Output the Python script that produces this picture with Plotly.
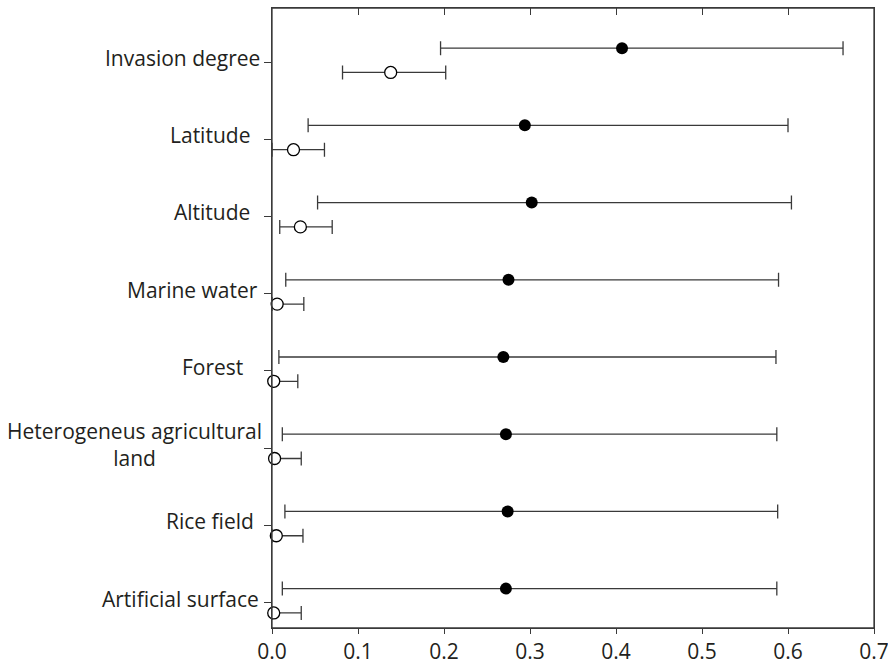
import plotly.graph_objects as go

# ---------------- data ----------------
categories = ["Invasion degree", "Latitude", "Altitude", "Marine water", "Forest",
              "Heterogeneus agricultural<br>land", "Rice field", "Artificial surface"]

filled_mean = [0.407, 0.294, 0.302, 0.275, 0.269, 0.272, 0.274, 0.272]
filled_low  = [0.196, 0.042, 0.053, 0.016, 0.008, 0.012, 0.015, 0.012]
filled_high = [0.664, 0.600, 0.604, 0.589, 0.586, 0.587, 0.588, 0.587]

open_mean = [0.138, 0.025, 0.033, 0.006, 0.002, 0.003, 0.005, 0.002]
open_low  = [0.082, 0.000, 0.009, 0.000, 0.000, 0.000, 0.000, 0.000]
open_high = [0.202, 0.061, 0.070, 0.037, 0.030, 0.034, 0.036, 0.034]

x_ticks = [0.0, 0.1, 0.2, 0.3, 0.4, 0.5, 0.6, 0.7]
x_max = 0.7

# ---------------- style ----------------
FONT = "Open Sans"
INK = "#231f20"
LINE = "#3a3a3a"
FILLED_OFFSET = -0.18
OPEN_OFFSET = 0.135
label_xshift = [-10, -20, -20, -11.7, -26.7, -8.4, -15.7, -10.7]

idx = list(range(len(categories)))

fig = go.Figure()

fig.add_trace(go.Scatter(
    x=filled_mean,
    y=[i + FILLED_OFFSET for i in idx],
    mode="markers",
    marker=dict(size=12, color="black", line=dict(width=0)),
    error_x=dict(type="data", symmetric=False,
                 array=[h - m for h, m in zip(filled_high, filled_mean)],
                 arrayminus=[m - l for m, l in zip(filled_mean, filled_low)],
                 color=LINE, thickness=1.3, width=7),
    cliponaxis=False, showlegend=False, hoverinfo="skip"))

fig.add_trace(go.Scatter(
    x=open_mean,
    y=[i + OPEN_OFFSET for i in idx],
    mode="markers",
    marker=dict(size=12, color="white", line=dict(width=1.3, color="black")),
    error_x=dict(type="data", symmetric=False,
                 array=[h - m for h, m in zip(open_high, open_mean)],
                 arrayminus=[m - l for m, l in zip(open_mean, open_low)],
                 color=LINE, thickness=1.3, width=7),
    cliponaxis=False, showlegend=False, hoverinfo="skip"))

fig.add_trace(go.Scatter(x=[None], y=[None], xaxis="x2", yaxis="y",
                         mode="markers", showlegend=False, hoverinfo="skip"))

for i, lab in enumerate(categories):
    fig.add_annotation(
        x=0, xref="paper", y=i, yref="y",
        text=lab, showarrow=False, xanchor="right", yanchor="middle",
        align="center", xshift=label_xshift[i], yshift=4,
        font=dict(family=FONT, size=21, color=INK))

# plot frame
fig.add_shape(type="rect", xref="x domain", yref="y domain",
              x0=0, x1=1, y0=0, y1=1, layer="above",
              line=dict(color=LINE, width=1.3), fillcolor="rgba(0,0,0,0)")

fig.update_layout(
    width=888, height=662,
    margin=dict(l=272, r=14, t=8, b=34, autoexpand=False),
    paper_bgcolor="white", plot_bgcolor="white",
    xaxis=dict(range=[0, x_max], tickvals=x_ticks,
               ticktext=[f"{v:.1f}" for v in x_ticks],
               ticks="outside", ticklen=5, tickwidth=1.3, tickcolor=LINE,
               automargin=False, ticklabeloverflow="allow",
               showline=True, linecolor=LINE, linewidth=1.3, mirror=True,
               showgrid=False, zeroline=False,
               tickfont=dict(family=FONT, size=21, color=INK)),
    xaxis2=dict(range=[0, x_max], overlaying="x", side="top", anchor="y",
                tickvals=x_ticks, ticks="inside", ticklen=7, tickwidth=1.3,
                tickcolor=LINE, showticklabels=False, showline=False,
                showgrid=False, zeroline=False, automargin=False),
    yaxis=dict(range=[7.33, -0.70], tickvals=idx, ticktext=[""] * len(idx),
               ticks="outside", ticklen=7, tickwidth=1.3, tickcolor=LINE,
               showline=True, linecolor=LINE, linewidth=1.3, mirror=True,
               showgrid=False, zeroline=False, automargin=False),
)

post = (
    "document.documentElement.style.margin='0';document.body.style.margin='0';"
    "document.documentElement.style.overflow='hidden';document.body.style.overflow='hidden';"
)

fig.write_html("out.html", config={"displayModeBar": False}, post_script=post)
